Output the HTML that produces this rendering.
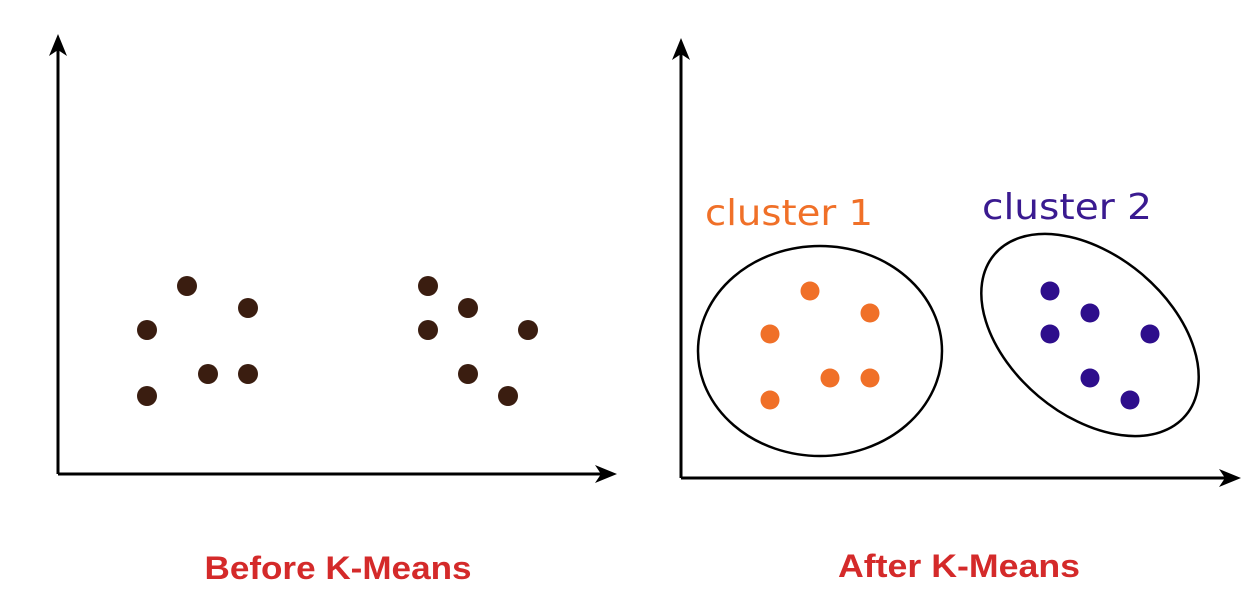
<!DOCTYPE html>
<html><head><style>body{margin:0;background:#fff}svg{display:block}</style></head><body>
<svg width="1257" height="605" viewBox="0 0 1257 605" xmlns="http://www.w3.org/2000/svg">
<g stroke="#000" stroke-width="3" fill="none">
<line x1="58" y1="474" x2="58" y2="48"/>
<line x1="58" y1="474" x2="602" y2="474"/>
<line x1="681" y1="478" x2="681" y2="52"/>
<line x1="681" y1="478" x2="1226" y2="478"/>
<ellipse cx="820" cy="351" rx="122" ry="105" stroke-width="2.5"/>
<ellipse cx="1090" cy="335" rx="125" ry="80" transform="rotate(40 1090 335)" stroke-width="2.5"/>
</g>
<g fill="#000">
<polygon points="58,34 49,56 58,50 67,56"/>
<polygon points="617,474 595,465 601,474 595,483"/>
<polygon points="681,38 672,60 681,54 690,60"/>
<polygon points="1241,478 1219,469 1225,478 1219,487"/>
</g>
<g fill="#3a1d10">
<circle cx="187" cy="286" r="10"/><circle cx="248" cy="308" r="10"/><circle cx="147" cy="330" r="10"/>
<circle cx="208" cy="374" r="10"/><circle cx="248" cy="374" r="10"/><circle cx="147" cy="396" r="10"/>
<circle cx="428" cy="286" r="10"/><circle cx="468" cy="308" r="10"/><circle cx="428" cy="330" r="10"/>
<circle cx="528" cy="330" r="10"/><circle cx="468" cy="374" r="10"/><circle cx="508" cy="396" r="10"/>
</g>
<g fill="#f07028">
<circle cx="810" cy="291" r="9.5"/><circle cx="870" cy="313" r="9.5"/><circle cx="770" cy="334" r="9.5"/>
<circle cx="830" cy="378" r="9.5"/><circle cx="870" cy="378" r="9.5"/><circle cx="770" cy="400" r="9.5"/>
</g>
<g fill="#2e0e8c">
<circle cx="1050" cy="291" r="9.5"/><circle cx="1090" cy="313" r="9.5"/><circle cx="1050" cy="334" r="9.5"/>
<circle cx="1150" cy="334" r="9.5"/><circle cx="1090" cy="378" r="9.5"/><circle cx="1130" cy="400" r="9.5"/>
</g>
<text x="705" y="225" font-family="DejaVu Sans, sans-serif" font-size="36" fill="#f07028" textLength="168" lengthAdjust="spacingAndGlyphs">cluster 1</text>
<text x="982" y="219" font-family="DejaVu Sans, sans-serif" font-size="36" fill="#3a1a90" textLength="170" lengthAdjust="spacingAndGlyphs">cluster 2</text>
<text x="338" y="579" text-anchor="middle" font-family="Liberation Sans, sans-serif" font-weight="bold" font-size="32" fill="#d42a2a" textLength="267" lengthAdjust="spacingAndGlyphs">Before K-Means</text>
<text x="959" y="577" text-anchor="middle" font-family="Liberation Sans, sans-serif" font-weight="bold" font-size="32" fill="#d42a2a" textLength="242" lengthAdjust="spacingAndGlyphs">After K-Means</text>
</svg>
</body></html>
